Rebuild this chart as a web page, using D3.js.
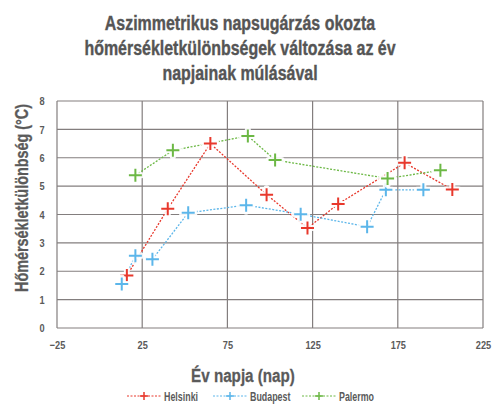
<!DOCTYPE html>
<html>
<head>
<meta charset="utf-8">
<script src="https://cdn.jsdelivr.net/npm/d3@7"></script>
<style>
  body { margin: 0; background: #fff; }
  text { font-family: "Liberation Sans", Arial, sans-serif; font-weight: bold; font-style: normal; fill: #5a5a5a; }
</style>
</head>
<body>
<div id="chart"></div>
<script>
// data
var helsinkiDays = [16, 40, 65, 98, 122, 140, 179, 207];
var helsinkiVals = [1.85, 4.2, 6.5, 4.7, 3.52, 4.37, 5.82, 4.88];
var budapestDays = [13, 21, 31, 52, 86, 118, 157, 168, 190];
var budapestVals = [1.55, 2.55, 2.42, 4.06, 4.33, 4.01, 3.57, 4.87, 4.87];
var palermoDays = [21, 43, 87, 103, 169, 200];
var palermoVals = [5.38, 6.26, 6.77, 5.92, 5.27, 5.56];
var xTicks = [-25, 25, 75, 125, 175, 225];
var yTicks = [0, 1, 2, 3, 4, 5, 6, 7, 8];

var series = [
    { name: "Helsinki", days: helsinkiDays, vals: helsinkiVals, color: "#e8382c" },
    { name: "Budapest", days: budapestDays, vals: budapestVals, color: "#5cb6ea" },
    { name: "Palermo", days: palermoDays, vals: palermoVals, color: "#6cb845" }
];

var W = 493, H = 411;
var margin = { top: 101, left: 57 },
    width = 483 - margin.left,
    height = 328 - margin.top;

var svg = d3.select("#chart").append("svg")
    .attr("width", W).attr("height", H);

// squeeze a text horizontally (condensed look), anchored at (cx, cy)
function squeeze(t, cx, cy, k, rot) {
    t.attr("x", 0).attr("y", 0)
        .attr("transform", "translate(" + cx + "," + cy + ")" + (rot ? " rotate(" + rot + ")" : "") + " scale(" + k + ",1)");
}

// title
var title = ["Aszimmetrikus napsugárzás okozta",
    "hőmérsékletkülönbségek változása az év",
    "napjainak múlásával"];
svg.selectAll(".title").data(title).enter().append("text")
    .attr("text-anchor", "middle")
    .style("font-size", "21px")
    .style("fill", "#555")
    .style("stroke", "#555").style("stroke-width", 0.4)
    .text(function (d) { return d; })
    .each(function (d, i) { squeeze(d3.select(this), 240, 30 + i * 25, 0.76); });

var g = svg.append("g")
    .attr("transform", "translate(" + margin.left + "," + margin.top + ")");

var x = d3.scaleLinear().domain([-25, 225]).range([0, width]);
var y = d3.scaleLinear().domain([0, 8]).range([height, 0]);

// grid
g.selectAll(".hgrid").data(yTicks).enter().append("line")
    .attr("x1", 0).attr("x2", width)
    .attr("y1", function (d) { return y(d); })
    .attr("y2", function (d) { return y(d); })
    .attr("stroke", "#837e7e").attr("stroke-width", 1.2);
g.selectAll(".vgrid").data(xTicks).enter().append("line")
    .attr("x1", function (d) { return x(d); })
    .attr("x2", function (d) { return x(d); })
    .attr("y1", 0).attr("y2", height)
    .attr("stroke", "#837e7e").attr("stroke-width", 1.2);

// axes (labels only)
var xAxis = g.append("g")
    .attr("transform", "translate(0," + height + ")")
    .call(d3.axisBottom(x).tickValues(xTicks).tickSize(0).tickPadding(13));
var yAxis = g.append("g")
    .call(d3.axisLeft(y).tickValues(yTicks).tickSize(0).tickPadding(13));
[xAxis, yAxis].forEach(function (a) {
    a.select(".domain").remove();
    a.selectAll("text").style("font-size", "11.5px").style("fill", "#5a5a5a")
        .style("font-family", "Liberation Sans").style("font-weight", "bold")
        .attr("transform", "scale(0.8,1)");
});
yAxis.selectAll(".tick text").attr("text-anchor", "middle").attr("x", -15 / 0.8);

// axis titles
svg.append("text")
    .attr("text-anchor", "middle")
    .style("font-size", "19px")
    .style("stroke", "#5a5a5a").style("stroke-width", 0.3)
    .text("Év napja (nap)")
    .call(squeeze, 243, 382, 0.8);
svg.append("text")
    .attr("text-anchor", "middle")
    .style("font-size", "18px")
    .style("stroke", "#5a5a5a").style("stroke-width", 0.3)
    .text("Hőmérsékletkülönbség (°C)")
    .call(squeeze, 28, 198, 0.8, -90);

var line = d3.line()
    .x(function (d) { return x(d[0]); })
    .y(function (d) { return y(d[1]); });

function cross(sel, color, s) {
    sel.append("path")
        .attr("d", "M" + (-s) + ",0H" + s + "M0," + (-s) + "V" + s)
        .attr("stroke", "#fff").attr("stroke-width", 6).attr("stroke-linecap", "round")
        .attr("opacity", 0.9);
    sel.append("path")
        .attr("d", "M" + (-s) + ",0H" + s + "M0," + (-s) + "V" + s)
        .attr("stroke", color).attr("stroke-width", 2);
}

series.forEach(function (s) {
    var pts = s.days.map(function (d, i) { return [d, s.vals[i]]; });
    g.append("path")
        .datum(pts)
        .attr("d", line)
        .attr("fill", "none")
        .attr("stroke", s.color)
        .attr("stroke-width", 1.3)
        .attr("stroke-dasharray", "2,1.5");
});
series.forEach(function (s) {
    var pts = s.days.map(function (d, i) { return [d, s.vals[i]]; });
    g.selectAll(null).data(pts).enter().append("g")
        .attr("transform", function (d) { return "translate(" + x(d[0]) + "," + y(d[1]) + ")"; })
        .each(function () { cross(d3.select(this), s.color, 6.5); });
});

// legend
var legendX = [127, 213, 302];
var leg = svg.selectAll(".leg").data(series).enter().append("g")
    .attr("transform", function (d, i) { return "translate(" + legendX[i] + ",396)"; });
leg.append("line")
    .attr("x1", 0).attr("x2", 35).attr("y1", 0).attr("y2", 0)
    .attr("stroke", function (d) { return d.color; })
    .attr("stroke-width", 1).attr("stroke-dasharray", "2,1.5");
leg.each(function (d) {
    var c = d3.select(this).append("g").attr("transform", "translate(17,0)");
    c.append("path").attr("d", "M-4,0H4M0,-4V4")
        .attr("stroke", d.color).attr("stroke-width", 1.5);
});
leg.append("text")
    .style("font-size", "12px")
    .text(function (d) { return d.name; })
    .each(function () { squeeze(d3.select(this), 37, 4.5, 0.74); });
</script>
</body>
</html>
